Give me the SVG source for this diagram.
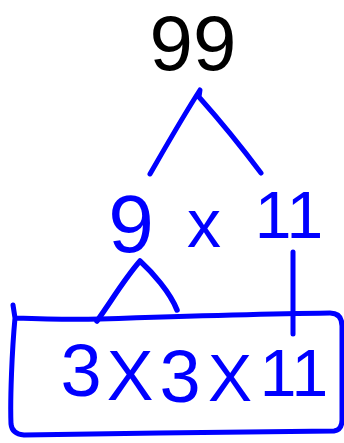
<svg xmlns="http://www.w3.org/2000/svg" width="344" height="443" viewBox="0 0 344 443">
<style>
.ln{fill:none;stroke:#0000ff;stroke-width:5;stroke-linecap:round;stroke-linejoin:round}
.hw{font-family:"Liberation Sans",Arial,sans-serif;fill:#0000ff;text-anchor:middle}
.top{font-family:"Liberation Sans",Arial,sans-serif;fill:#000;text-anchor:middle}
</style>
<rect width="344" height="443" fill="#fff"/>
<g id="connectors">
<path class="ln" d="M150,174 C165,148 182,118 200,90 L199,97 C215,115 240,145 261,173"/>
<path class="ln" d="M293,252 L293,334"/>
<path class="ln" d="M97,321 C112,300 125,278 140,261 C152,272 170,292 177,310" style="stroke-width:5.5"/>
</g>
<g id="n99"><text class="top" x="193" y="70" font-size="78">99</text></g>
<g id="n9"><text class="hw" x="131" y="252" font-size="82">9</text></g>
<g id="times1"><text class="hw" x="204" y="247" font-size="68">x</text></g>
<g id="n11"><text class="hw" x="289" y="238" font-size="66">11</text></g>
<g id="box">
<path class="ln" d="M13,305 L15,318 C12,350 10,400 11,424 Q12,434 24,435 C120,433 250,432 334,431 Q342,430 342,420 L342,326 Q342,313 330,313 C250,314 160,317 100,319 C70,320 40,319 15,318"/>
<text class="hw" x="81" y="396" font-size="74">3</text>
<text class="hw" x="130" y="400" font-size="70">X</text>
<text class="hw" x="180" y="402" font-size="74">3</text>
<text class="hw" x="230" y="401" font-size="66">X</text>
<text class="hw" x="294" y="396" font-size="66">11</text>
</g>
</svg>
